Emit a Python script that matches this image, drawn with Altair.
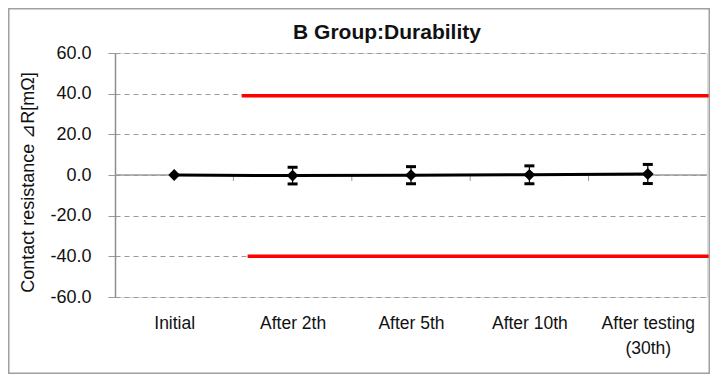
import json
import altair as alt
import pandas as pd

# ---- data ----
categories = ["Initial", "After 2th", "After 5th", "After 10th", "After testing\n(30th)"]
cat_pos = [0.5, 1.5, 2.5, 3.5, 4.5]
means = [0.0, -0.3, -0.1, 0.1, 0.5]
errors = [0.0, 4.1, 4.2, 4.4, 4.7]

limit_values = [39.0, -40.0]
limit_start = [1.07, 1.12]
limit_end = [5.03, 5.03]

boundaries = [1, 2, 3, 4]
y_ticks = [-60, -40, -20, 0, 20, 40, 60]

df = pd.DataFrame({"x": cat_pos, "cat": categories, "mean": means, "err": errors})
df["lo"] = df["mean"] - df["err"]
df["hi"] = df["mean"] + df["err"]
df_err = df[df["err"] > 0]
df_lim = pd.DataFrame({"y": limit_values, "x": limit_start, "x2": limit_end})
df_b = pd.DataFrame({"x": boundaries, "y": [0] * len(boundaries), "y2": [-3] * len(boundaries)})
df_zero = pd.DataFrame({"x": [0], "x2": [5], "y": [0]})

label_list = [c.split("\n") if "\n" in c else c for c in categories]
label_expr = json.dumps(label_list) + "[floor(datum.value)]"

xscale = alt.Scale(domain=[0, 5], nice=False, zero=False)
yscale = alt.Scale(domain=[-60, 60], nice=False)

x_axis = alt.Axis(values=cat_pos, labelExpr=label_expr, domain=False, ticks=False, grid=False,
                  labelFontSize=17.5, labelPadding=17, labelLineHeight=25, labelColor="#111",
                  labelFont="Liberation Sans", title=None, labelAngle=0)
y_axis = alt.Axis(values=y_ticks, labelExpr="replace(format(datum.value, '.1f'), '\u2212', '-')",
                  tickSize=7, tickColor="#999", domainColor="#8c8c8c",
                  domainWidth=1.5, labelFontSize=18, labelPadding=17, labelColor="#111",
                  labelFont="Liberation Sans", grid=True, gridDash=[5, 4], gridColor="#9a9a9a",
                  title="Contact resistance ⊿R[mΩ]", titleFontSize=18, titleFont="Liberation Sans",
                  titleFontWeight="normal", titleColor="#111", titleX=-87, titleY=129,
                  titleBaseline="middle", titleAlign="center")

base = alt.Chart(df)

grid = alt.Chart(df_zero).mark_rule(opacity=0).encode(
    x=alt.X("x:Q", scale=xscale, axis=x_axis),
    y=alt.Y("y:Q", scale=yscale, axis=y_axis),
)

zero = alt.Chart(df_zero).mark_rule(color="#9a9a9a", strokeWidth=1.5).encode(
    x="x:Q", x2="x2:Q", y="y:Q")

btick = alt.Chart(df_b).mark_rule(color="#9a9a9a", strokeWidth=1).encode(
    x="x:Q", y="y:Q", y2="y2:Q")

limits = alt.Chart(df_lim).mark_rule(color="#ff0000", strokeWidth=3.5, clip=False).encode(
    x="x:Q", x2="x2:Q", y="y:Q")

line = base.mark_line(color="black", strokeWidth=3).encode(x="x:Q", y="mean:Q")

err_rule = alt.Chart(df_err).mark_rule(color="black", strokeWidth=1.2).encode(
    x="x:Q", y="lo:Q", y2="hi:Q")
cap_hi = alt.Chart(df_err).mark_tick(color="black", orient="horizontal", size=10, thickness=3,
                                     opacity=1).encode(x="x:Q", y="hi:Q")
cap_lo = alt.Chart(df_err).mark_tick(color="black", orient="horizontal", size=10, thickness=3,
                                     opacity=1).encode(x="x:Q", y="lo:Q")

pts = base.mark_point(shape="diamond", filled=True, color="black", size=140, opacity=1).encode(
    x="x:Q", y="mean:Q")

border = alt.Chart(df_zero).mark_rect(fill=None, stroke="#a0a0a0", strokeWidth=1.5, clip=False).encode(
    x=alt.value(-106.25), x2=alt.value(594.25), y=alt.value(-44.25), y2=alt.value(320.25))

chart = alt.layer(grid, zero, btick, limits, line, err_rule, cap_hi, cap_lo, pts, border).properties(
    width=592, height=244,
    padding={"left": 107, "top": 45, "right": 3, "bottom": 77},
    autosize=alt.AutoSizeParams(type="none"),
    title=alt.TitleParams("B Group:Durability", fontSize=21, font="Liberation Sans", fontWeight="bold",
                          color="#111", anchor="middle", frame="group", dx=-24, offset=-35),
).configure_view(stroke="#333", strokeWidth=1.5).configure(background="white")

chart.save("out.html", embed_options={"renderer": "svg", "actions": False})
